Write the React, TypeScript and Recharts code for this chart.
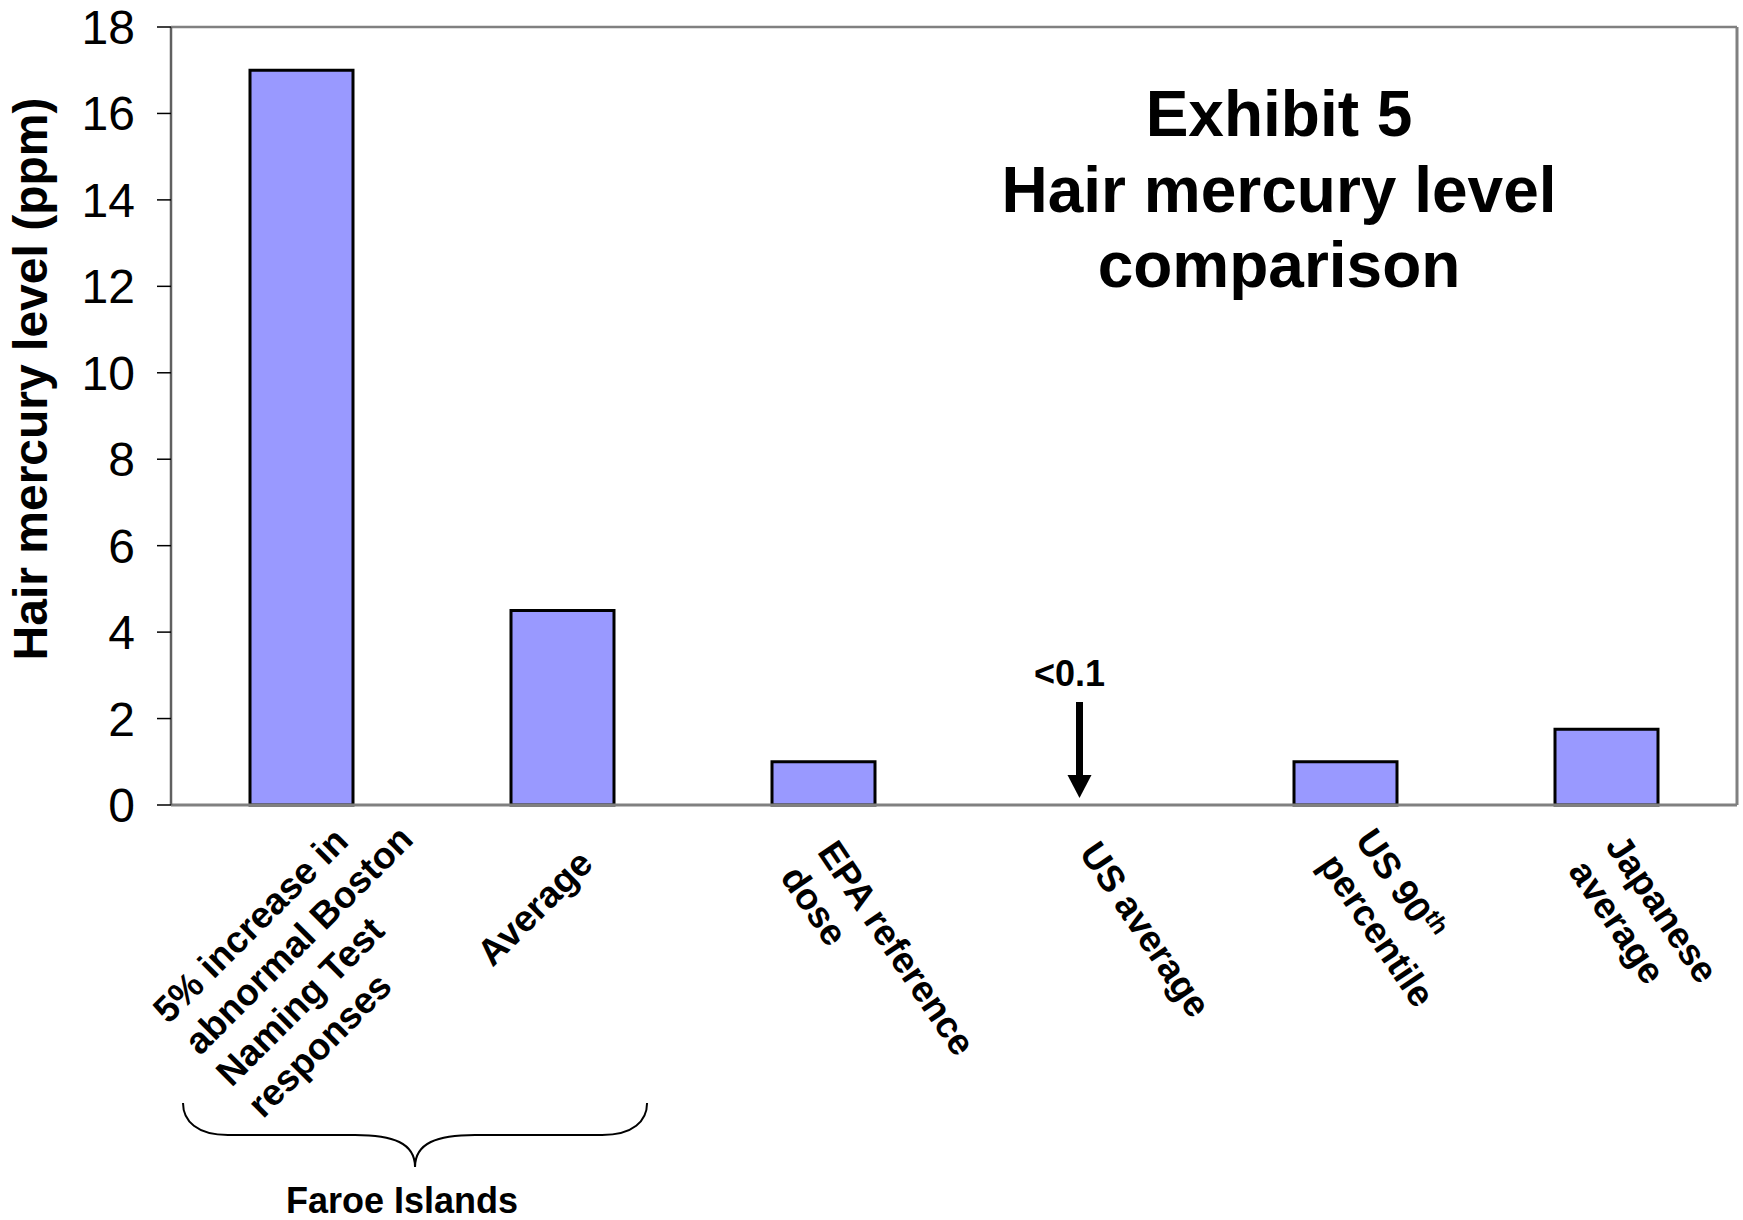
import React from "react";
import { BarChart, Bar, XAxis, YAxis, ReferenceDot, ReferenceLine, Customized } from "recharts";

// Hair mercury levels (ppm) by population / benchmark
const categories = [
  "5% increase in abnormal Boston Naming Test responses",
  "Average",
  "EPA reference dose",
  "US average",
  "US 90th percentile",
  "Japanese average",
];
const hairMercury: (number | null)[] = [17, 4.5, 1, null, 1, 1.75];
const tickLines = [
  ["5% increase in", "abnormal Boston", "Naming Test", "responses"],
  ["Average"],
  ["EPA reference", "dose"],
  ["US average"],
  ["US 90^th", "percentile"],
  ["Japanese", "average"],
];
const yTicks = [0, 2, 4, 6, 8, 10, 12, 14, 16, 18];
const usAverageNote = "<0.1";
const groupLabel = "Faroe Islands";
const titleLines = ["Exhibit 5", "Hair mercury level", "comparison"];
const yLabel = "Hair mercury level (ppm)";

const data = categories.map((name, i) => ({ name, value: hairMercury[i] }));

const FONT = '"Liberation Sans", Arial, Helvetica, sans-serif';
const W = 1743;
const H = 1220;
const MARGIN = { top: 27, right: 6, left: 0, bottom: 0 };
const Y_AXIS_W = 171;
const X_AXIS_H = 415;
const BAND = (W - MARGIN.right - Y_AXIS_W) / categories.length;
const LINE_H = 44.5;
const FRAME = "#808080";

// where each rotated category label starts, relative to its tick
const TICK_LAYOUT = [
  { angle: -45, dx: -133, dy: 220 },
  { angle: -45, dx: -70, dy: 163 },
  { angle: 56, dx: -7, dy: 47 },
  { angle: 56, dx: -6, dy: 48 },
  { angle: 56, dx: 9, dy: 35 },
  { angle: 56, dx: -2, dy: 41 },
];

function Brace({ x, y }: { x: number; y: number }) {
  const xl = x - 0.454 * BAND;
  const xr = x + 1.324 * BAND;
  const cx = (xl + xr) / 2;
  const yt = y + 298;
  const ym = y + 330;
  const yb = y + 362;
  const d = [
    `M${xl},${yt}`,
    `C${xl},${ym - 14} ${xl + 14},${ym} ${xl + 45},${ym}`,
    `L${cx - 60},${ym}`,
    `C${cx - 22},${ym} ${cx},${ym + 8} ${cx},${yb}`,
    `C${cx},${ym + 8} ${cx + 22},${ym} ${cx + 60},${ym}`,
    `L${xr - 45},${ym}`,
    `C${xr - 14},${ym} ${xr},${ym - 14} ${xr},${yt}`,
  ].join(" ");
  return (
    <g>
      <path d={d} fill="none" stroke="#000" strokeWidth={2} />
      <text
        x={cx - 13}
        y={y + 408}
        textAnchor="middle"
        fontFamily={FONT}
        fontSize={36}
        fontWeight="bold"
        fill="#000"
      >
        {groupLabel}
      </text>
    </g>
  );
}

function CategoryTick(props: any) {
  const { x, y } = props;
  const index = props.index ?? props.payload?.index ?? 0;
  const lines = tickLines[index];
  const lay = TICK_LAYOUT[index];
  return (
    <g>
      <g transform={`translate(${x + lay.dx},${y + lay.dy}) rotate(${lay.angle})`}>
        {lines.map((line, i) => {
          const [main, sup] = line.split("^");
          return (
            <text
              key={i}
              x={0}
              y={i * LINE_H}
              fontFamily={FONT}
              fontSize={37}
              fontWeight="bold"
              fill="#000"
            >
              {main}
              {sup && (
                <tspan dy={-14} fontSize={24}>
                  {sup}
                </tspan>
              )}
            </text>
          );
        })}
      </g>
      {index === 0 && <Brace x={x} y={y} />}
    </g>
  );
}

function ArrowNote(props: any) {
  const { cx, cy } = props;
  const ax = cx - 5;
  return (
    <g>
      <text
        x={cx - 15}
        y={cy - 119}
        textAnchor="middle"
        fontFamily={FONT}
        fontSize={36}
        fontWeight="bold"
        fill="#000"
      >
        {usAverageNote}
      </text>
      <rect x={ax - 3.5} y={cy - 103} width={7} height={75} fill="#000" />
      <polygon points={`${ax - 12},${cy - 30} ${ax + 12},${cy - 30} ${ax},${cy - 7}`} fill="#000" />
    </g>
  );
}

function Annotations() {
  const right = W - MARGIN.right;
  return (
    <g fontFamily={FONT} fill="#000">
      {/* right edge of the plot frame */}
      <line x1={right} y1={MARGIN.top} x2={right} y2={H - X_AXIS_H} stroke={FRAME} strokeWidth={3} />
      {titleLines.map((t, i) => (
        <text key={t} x={1279} y={136 + i * 75.5} textAnchor="middle" fontSize={64} fontWeight="bold">
          {t}
        </text>
      ))}
      <text
        transform="translate(47,379) rotate(-90)"
        textAnchor="middle"
        fontSize={48}
        fontWeight="bold"
      >
        {yLabel}
      </text>
    </g>
  );
}

export default function App() {
  return (
    <div style={{ width: W, height: H, background: "#fff" }}>
      <style>{`body{margin:0;background:#fff}`}</style>
      <BarChart width={W} height={H} data={data} margin={MARGIN}>
        <XAxis
          dataKey="name"
          height={X_AXIS_H}
          interval={0}
          tickLine={false}
          tickSize={0}
          tickMargin={0}
          axisLine={{ stroke: FRAME, strokeWidth: 3 }}
          tick={CategoryTick}
        />
        <YAxis
          width={Y_AXIS_W}
          domain={[0, 18]}
          ticks={yTicks}
          interval={0}
          tickSize={14}
          tickMargin={22}
          tickLine={{ stroke: "#000", strokeWidth: 1.5 }}
          axisLine={{ stroke: "#606060", strokeWidth: 2.5 }}
          tick={{ fill: "#000", fontSize: 48, fontFamily: FONT }}
        />
        <ReferenceLine y={18} stroke={FRAME} strokeWidth={2.5} />
        <Bar
          dataKey="value"
          fill="#9999FF"
          stroke="#000"
          strokeWidth={3}
          barSize={103}
          isAnimationActive={false}
        />
        <ReferenceDot x={categories[3]} y={0} shape={ArrowNote} />
        <Customized component={Annotations} />
      </BarChart>
    </div>
  );
}
